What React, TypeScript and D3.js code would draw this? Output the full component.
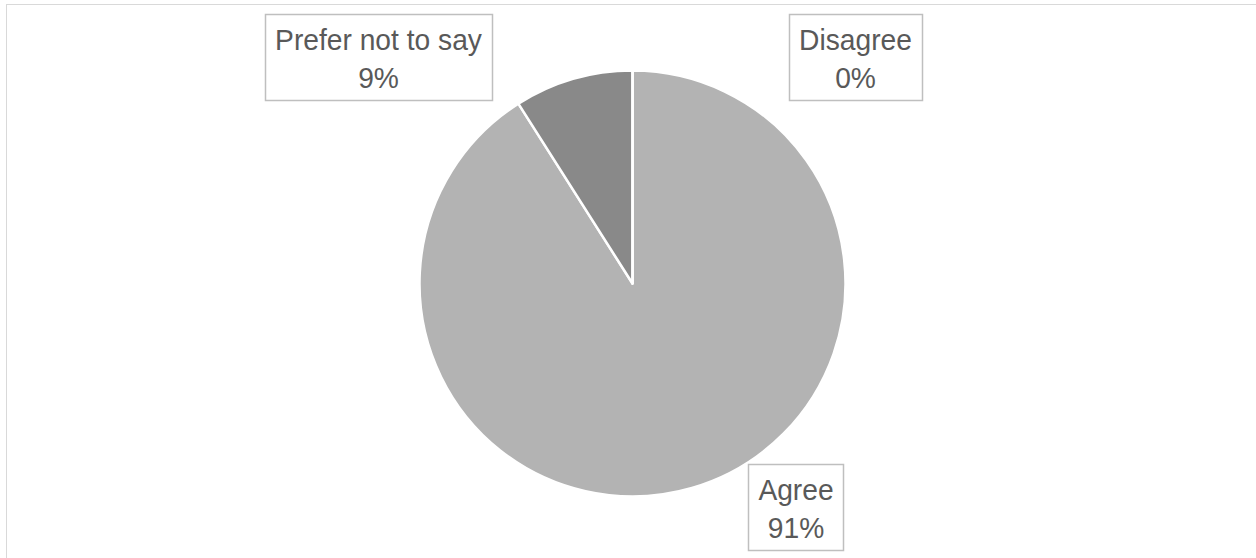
import React, { useEffect, useRef } from "react";
import * as d3 from "d3";

const categories = ["Agree", "Prefer not to say", "Disagree"];
const values = [91, 9, 0];
const colors = ["#b3b3b3", "#898989", "#d9d9d9"];
// label box centers, as offsets from the pie center (layout only)
const labelOffsets: [number, number][] = [
  [163.5, 223.5],
  [-254, -226.5],
  [223, -226.5],
];

const W = 1256;
const H = 558;

export default function App() {
  const ref = useRef<SVGSVGElement | null>(null);

  useEffect(() => {
    const svg = d3.select(ref.current);
    svg.selectAll("*").remove();

    svg
      .append("rect")
      .attr("x", 6.5)
      .attr("y", 4.5)
      .attr("width", W + 20)
      .attr("height", H + 20)
      .attr("fill", "#ffffff")
      .attr("stroke", "#d9d9d9")
      .attr("stroke-width", 1);

    const cx = 632.5;
    const cy = 283.5;
    const r = 213;

    const pie = d3
      .pie<number>()
      .sort(null)
      .value((d) => d);
    const arcs = pie(values);
    const arc = d3.arc<d3.PieArcDatum<number>>().innerRadius(0).outerRadius(r);

    const g = svg.append("g").attr("transform", `translate(${cx},${cy})`);
    g.selectAll("path")
      .data(arcs)
      .enter()
      .append("path")
      .attr("d", (d) => arc(d) as string)
      .attr("fill", (_d, i) => colors[i])
      .attr("stroke", "#ffffff")
      .attr("stroke-width", 2.5)
      .attr("stroke-linejoin", "round");

    const total = d3.sum(values);
    const fontSize = 30;
    const sx = 0.94;
    const lineGap = 38;
    const font = "'Liberation Sans', Arial, sans-serif";
    const lg = svg.append("g");
    categories.forEach((cat, i) => {
      const [ox, oy] = labelOffsets[i];
      const lx = cx + ox;
      const ly = cy + oy;
      const grp = lg.append("g");
      const box = grp.append("rect");
      const pct = Math.round((values[i] / total) * 100) + "%";
      const tg = grp
        .append("g")
        .attr("transform", `translate(${lx},0) scale(${sx},1)`);
      const t1 = tg
        .append("text")
        .attr("x", 0)
        .attr("y", ly - 7)
        .attr("text-anchor", "middle")
        .attr("font-family", font)
        .attr("font-size", fontSize)
        .attr("fill", "#595959")
        .text(cat);
      tg.append("text")
        .attr("x", 0)
        .attr("y", ly - 7 + lineGap)
        .attr("text-anchor", "middle")
        .attr("font-family", font)
        .attr("font-size", fontSize)
        .attr("fill", "#595959")
        .text(pct);
      const w = (t1.node() as SVGTextElement).getComputedTextLength() * sx + 20;
      const h = 86;
      box
        .attr("x", Math.round(lx - w / 2) + 0.5)
        .attr("y", Math.round(ly - h / 2) + 0.5)
        .attr("width", Math.round(w))
        .attr("height", h)
        .attr("fill", "#ffffff")
        .attr("stroke", "#bfbfbf")
        .attr("stroke-width", 1.5);
    });
  }, []);

  return (
    <svg
      ref={ref}
      width={W}
      height={H}
      style={{ position: "absolute", left: 0, top: 0, display: "block" }}
    />
  );
}
